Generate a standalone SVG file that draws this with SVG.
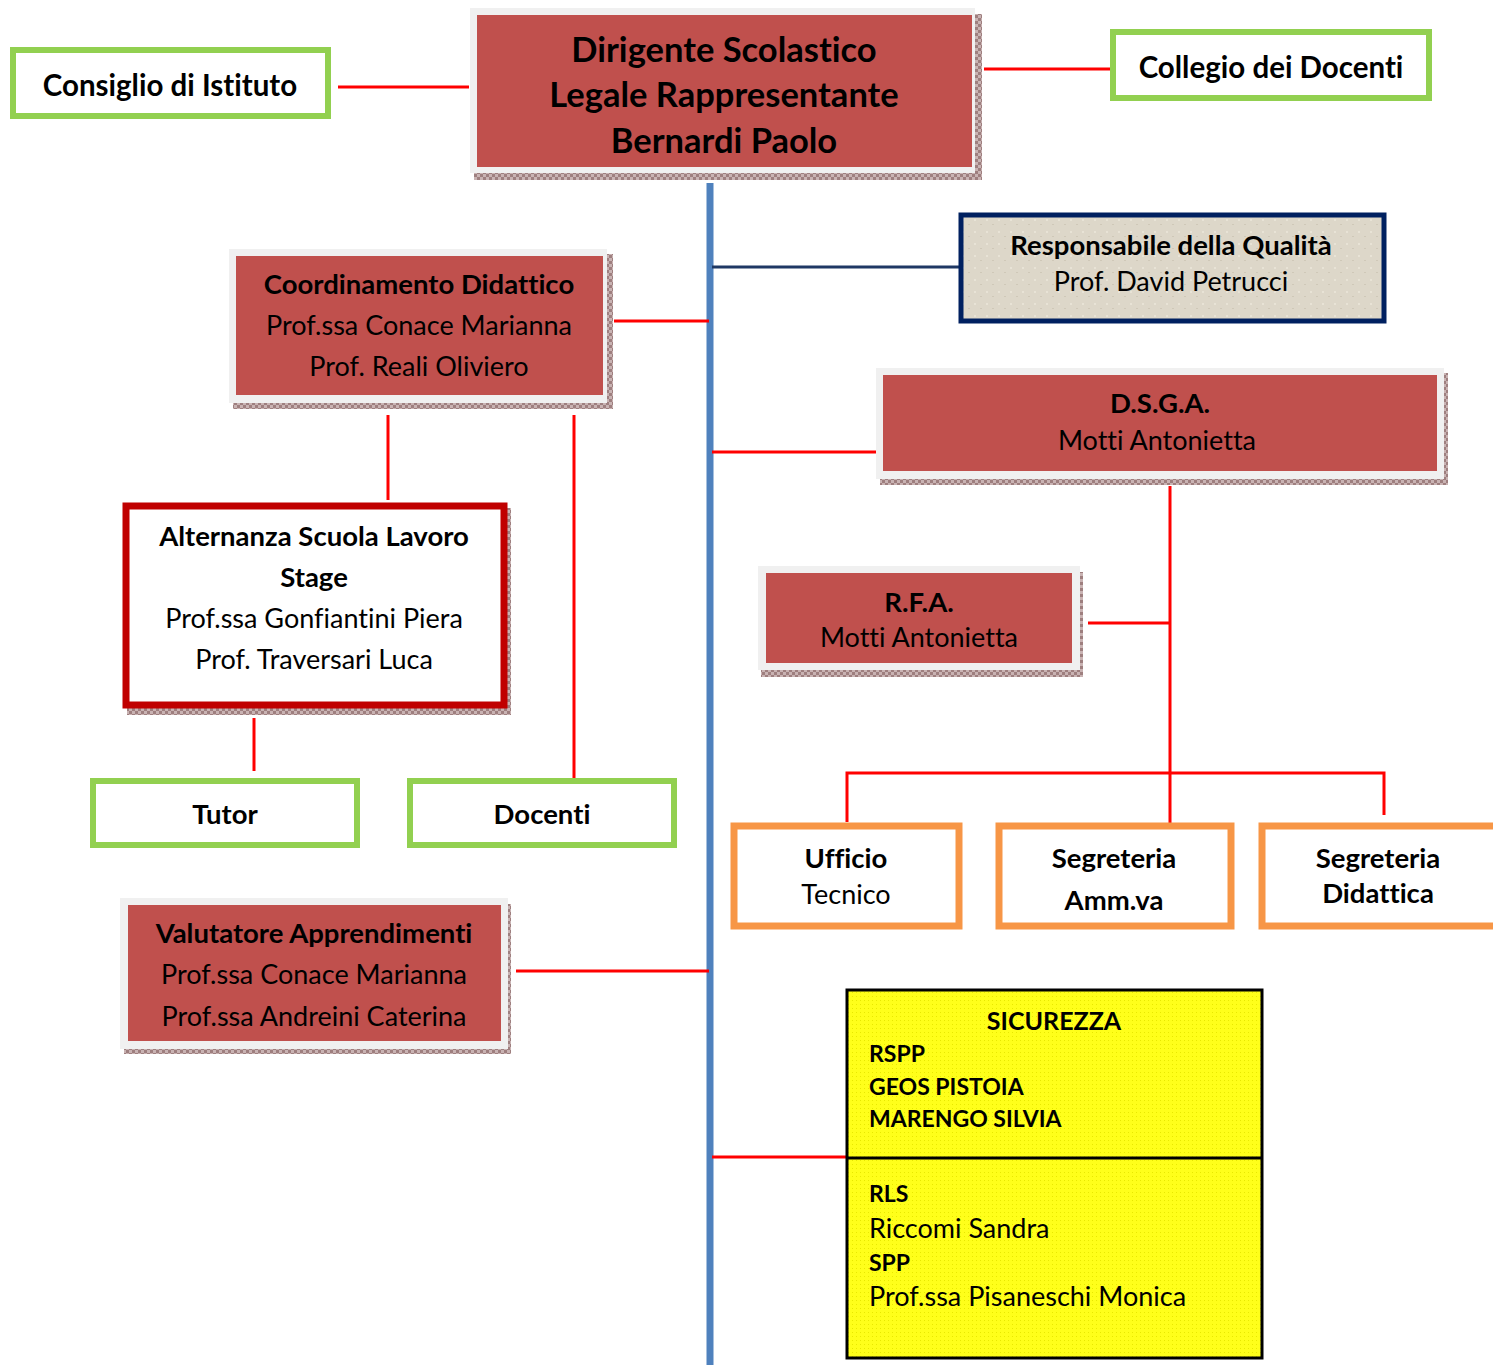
<svg xmlns="http://www.w3.org/2000/svg" width="1493" height="1365" viewBox="0 0 1493 1365">
<defs>
<pattern id="hatch" width="6" height="6" patternUnits="userSpaceOnUse">
<rect width="6" height="6" fill="#c9b3b3"/>
<rect width="3" height="3" fill="#9e7f7f"/>
<rect x="3" y="3" width="3" height="3" fill="#9e7f7f"/>
</pattern>
<pattern id="dots" width="4" height="4" patternUnits="userSpaceOnUse">
<rect width="4" height="4" fill="#ffff1a"/>
<rect width="1" height="1" fill="#e8e800"/>
</pattern>
<pattern id="paper" width="12" height="12" patternUnits="userSpaceOnUse">
<rect width="12" height="12" fill="#ddd7c9"/>
<rect x="2" y="3" width="2" height="2" fill="#e8e3d6"/>
<rect x="8" y="8" width="2" height="1" fill="#cfc8b8"/>
</pattern>
</defs>
<style>
text{font-family:Lato,"Open Sans","Liberation Sans",sans-serif;fill:#000;text-anchor:middle;font-size:27px;font-variant-ligatures:none}
.b{font-weight:bold;font-size:27.5px}
.t{font-size:34.5px}
.g{font-size:29.5px}
.s{font-size:23px}
.l{text-anchor:start}
.frame{fill:#f0f0f0}
.red{fill:#c0504d}
.green{fill:#fff;stroke:#92d050;stroke-width:6}
.orange{fill:#fff;stroke:#f79646;stroke-width:7}
.c{stroke:#ff0000;stroke-width:3;fill:none}
</style>
<rect width="1493" height="1365" fill="#fff"/>

<g id="connectors">
<line x1="710" y1="183" x2="710" y2="1365" stroke="#4f81bd" stroke-width="7"/>
<line class="c" x1="338" y1="87" x2="469" y2="87"/>
<line class="c" x1="984" y1="69" x2="1113" y2="69"/>
<line x1="712" y1="267" x2="961" y2="267" stroke="#1f3864" stroke-width="3"/>
<line class="c" x1="614" y1="321" x2="709" y2="321"/>
<line class="c" x1="388" y1="415" x2="388" y2="500"/>
<line class="c" x1="574" y1="415" x2="574" y2="780"/>
<line class="c" x1="254" y1="718" x2="254" y2="771"/>
<line class="c" x1="712" y1="452" x2="879" y2="452"/>
<line class="c" x1="1170" y1="486" x2="1170" y2="823"/>
<line class="c" x1="1088" y1="623" x2="1170" y2="623"/>
<polyline class="c" points="847,822 847,773 1384,773 1384,815"/>
<line class="c" x1="516" y1="971" x2="709" y2="971"/>
<line class="c" x1="712" y1="1157" x2="847" y2="1157"/>
</g>

<g id="dirigente">
<rect x="474" y="14" width="508" height="166" fill="url(#hatch)"/>
<rect class="frame" x="470" y="8" width="505" height="165"/>
<rect class="red" x="477" y="15" width="495" height="152"/>
<text class="b t" x="724" y="62">Dirigente Scolastico</text>
<text class="b t" x="724" y="107">Legale Rappresentante</text>
<text class="b t" x="724" y="153">Bernardi Paolo</text>
</g>

<g id="consiglio">
<rect class="green" x="13" y="50" width="315" height="66"/>
<text class="b g" x="170" y="96">Consiglio di Istituto</text>
</g>

<g id="collegio">
<rect class="green" x="1113" y="32" width="316" height="66"/>
<text class="b g" x="1271" y="78">Collegio dei Docenti</text>
</g>

<g id="qualita">
<rect x="961" y="215" width="423" height="106" fill="url(#paper)" stroke="#002060" stroke-width="5"/>
<text class="b" x="1171" y="255">Responsabile della Qualità</text>
<text x="1171" y="291">Prof. David Petrucci</text>
</g>

<g id="coordinamento">
<rect x="233" y="254" width="380" height="155" fill="url(#hatch)"/>
<rect class="frame" x="229" y="249" width="378" height="154"/>
<rect class="red" x="236" y="256" width="367" height="139"/>
<text class="b" x="419" y="294">Coordinamento Didattico</text>
<text x="419" y="335">Prof.ssa Conace Marianna</text>
<text x="419" y="376">Prof. Reali Oliviero</text>
</g>

<g id="alternanza">
<rect x="127" y="508" width="384" height="207" fill="url(#hatch)"/>
<rect x="126" y="506" width="378" height="199" fill="#fff" stroke="#c00000" stroke-width="7"/>
<text class="b" x="314" y="546">Alternanza Scuola Lavoro</text>
<text class="b" x="314" y="587">Stage</text>
<text x="314" y="628">Prof.ssa Gonfiantini Piera</text>
<text x="314" y="669">Prof. Traversari Luca</text>
</g>

<g id="tutor">
<rect class="green" x="93" y="781" width="264" height="64"/>
<text class="b" x="225" y="824">Tutor</text>
</g>

<g id="docenti">
<rect class="green" x="410" y="781" width="264" height="64"/>
<text class="b" x="542" y="824">Docenti</text>
</g>

<g id="dsga">
<rect x="880" y="373" width="568" height="112" fill="url(#hatch)"/>
<rect class="frame" x="876" y="368" width="568" height="111"/>
<rect class="red" x="883" y="375" width="554" height="96"/>
<text class="b" x="1160" y="413">D.S.G.A.</text>
<text x="1157" y="450">Motti Antonietta</text>
</g>

<g id="rfa">
<rect x="761" y="572" width="322" height="105" fill="url(#hatch)"/>
<rect class="frame" x="758" y="566" width="322" height="104"/>
<rect class="red" x="766" y="573" width="306" height="90"/>
<text class="b" x="919" y="612">R.F.A.</text>
<text x="919" y="647">Motti Antonietta</text>
</g>

<g id="ufficio">
<rect class="orange" x="734" y="826" width="225" height="100"/>
<text class="b" x="846" y="868">Ufficio</text>
<text x="846" y="904">Tecnico</text>
</g>

<g id="segamm">
<rect class="orange" x="999" y="826" width="232" height="100"/>
<text class="b" x="1114" y="868">Segreteria</text>
<text class="b" x="1114" y="910">Amm.va</text>
</g>

<g id="segdid">
<rect class="orange" x="1262" y="826" width="235" height="100"/>
<text class="b" x="1378" y="868">Segreteria</text>
<text class="b" x="1378" y="903">Didattica</text>
</g>

<g id="valutatore">
<rect x="124" y="904" width="387" height="150" fill="url(#hatch)"/>
<rect class="frame" x="120" y="898" width="388" height="151"/>
<rect class="red" x="128" y="905" width="373" height="136"/>
<text class="b" x="314" y="943">Valutatore Apprendimenti</text>
<text x="314" y="984">Prof.ssa Conace Marianna</text>
<text x="314" y="1026">Prof.ssa Andreini Caterina</text>
</g>

<g id="sicurezza">
<rect x="847" y="990" width="415" height="368" fill="url(#dots)" stroke="#000" stroke-width="3"/>
<line x1="847" y1="1158" x2="1262" y2="1158" stroke="#000" stroke-width="3"/>
<text class="b" x="1054" y="1030" style="font-size:25px">SICUREZZA</text>
<text class="b s l" x="869" y="1062">RSPP</text>
<text class="b s l" x="869" y="1095">GEOS PISTOIA</text>
<text class="b s l" x="869" y="1127">MARENGO SILVIA</text>
<text class="b s l" x="869" y="1202">RLS</text>
<text class="l" x="869" y="1238">Riccomi Sandra</text>
<text class="b s l" x="869" y="1271">SPP</text>
<text class="l" x="869" y="1306">Prof.ssa Pisaneschi Monica</text>
</g>
</svg>
